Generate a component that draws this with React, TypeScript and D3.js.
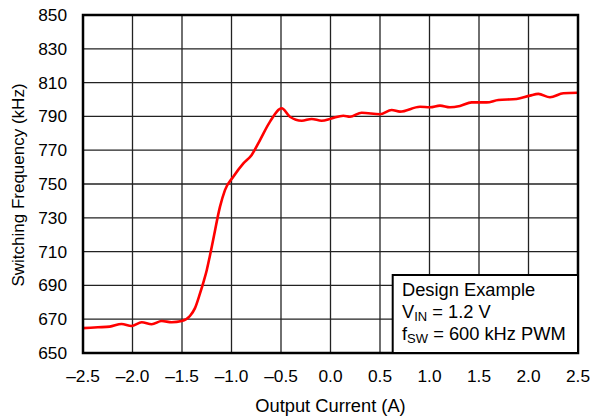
import React from "react";
import * as d3 from "d3";

const currentA = [-2.5, -2.35, -2.23, -2.11, -2.01, -1.907, -1.806, -1.705, -1.604, -1.503, -1.42, -1.37, -1.318, -1.278, -1.25, -1.22, -1.185, -1.116, -1.066, -0.982, -0.88, -0.796, -0.712, -0.611, -0.493, -0.41, -0.29, -0.19, -0.09, 0.01, 0.13, 0.197, 0.315, 0.5, 0.618, 0.702, 0.904, 1.005, 1.106, 1.207, 1.308, 1.426, 1.577, 1.695, 1.88, 2.015, 2.1, 2.217, 2.352, 2.5];
const freqKHz = [664.7, 665.2, 665.6, 667.2, 666.0, 668.2, 667.0, 668.9, 668.2, 668.9, 671.9, 676.4, 685.3, 693, 699, 707, 717, 736.6, 746.4, 754.3, 762.2, 767.2, 776, 786.9, 794.8, 789.8, 787.4, 788.5, 787.4, 788.8, 790.4, 789.8, 792.2, 791.3, 793.8, 792.8, 795.7, 795.4, 796.4, 795.4, 796.2, 798.3, 798.3, 799.7, 800.3, 802.3, 803.3, 801.3, 803.7, 804];
const xTicks = [-2.5, -2.0, -1.5, -1.0, -0.5, 0.0, 0.5, 1.0, 1.5, 2.0, 2.5];
const yTicks = [650, 670, 690, 710, 730, 750, 770, 790, 810, 830, 850];

const W = 593, H = 417;
const L = 83, R = 578, T = 15, B = 353;
const FONT = "'Liberation Sans', Arial, sans-serif";

export default function App() {
  const x = d3.scaleLinear().domain([-2.5, 2.5]).range([L, R]);
  const y = d3.scaleLinear().domain([650, 850]).range([B, T]);
  const pts = currentA.map((c, i) => [c, freqKHz[i]] as [number, number]);
  const line = d3.line<[number, number]>().x(d => x(d[0])).y(d => y(d[1])).curve(d3.curveMonotoneX);
  const fmt = (v: number) => (v < 0 ? "\u2013" : "") + Math.abs(v).toFixed(1);
  return (
    <svg width={W} height={H} style={{ position: "absolute", left: 0, top: 0, background: "#fff" }} fontFamily={FONT}>
      <rect x={0} y={0} width={W} height={H} fill="#fff" />
      {xTicks.map(t => (
        <line key={"gx" + t} x1={x(t)} x2={x(t)} y1={T} y2={B} stroke="#222" strokeWidth={1.3} />
      ))}
      {yTicks.map(t => (
        <line key={"gy" + t} x1={L} x2={R} y1={y(t)} y2={y(t)} stroke="#222" strokeWidth={1.3} />
      ))}
      <path d={line(pts) || ""} fill="none" stroke="#ff0000" strokeWidth={2.6} strokeLinejoin="round" />
      <rect x={L} y={T} width={R - L} height={B - T} fill="none" stroke="#000" strokeWidth={2.5} />
      <rect x={392.7} y={275} width={R - 392.7} height={B - 275} fill="#fff" stroke="#000" strokeWidth={2} />
      <g fontSize={18.3} fill="#000">
        <text x={402} y={296}>Design Example</text>
        <text x={402} y={318}>V<tspan fontSize={13} dy={3}>IN</tspan><tspan dy={-3}> = 1.2 V</tspan></text>
        <text x={402} y={340}>f<tspan fontSize={13} dy={3}>SW</tspan><tspan dy={-3}> = 600 kHz PWM</tspan></text>
      </g>
      <g fontSize={17.3} fill="#000">
        {yTicks.map(t => (
          <text key={"yl" + t} x={67} y={y(t) + 6} textAnchor="end">{t}</text>
        ))}
        {xTicks.map(t => (
          <text key={"xl" + t} x={x(t)} y={382} textAnchor="middle">{fmt(t)}</text>
        ))}
      </g>
      <text x={(L + R) / 2} y={412} textAnchor="middle" fontSize={18.3}>Output Current (A)</text>
      <text transform={`translate(23.5,${185}) rotate(-90)`} textAnchor="middle" fontSize={17}>Switching Frequency (kHz)</text>
    </svg>
  );
}
